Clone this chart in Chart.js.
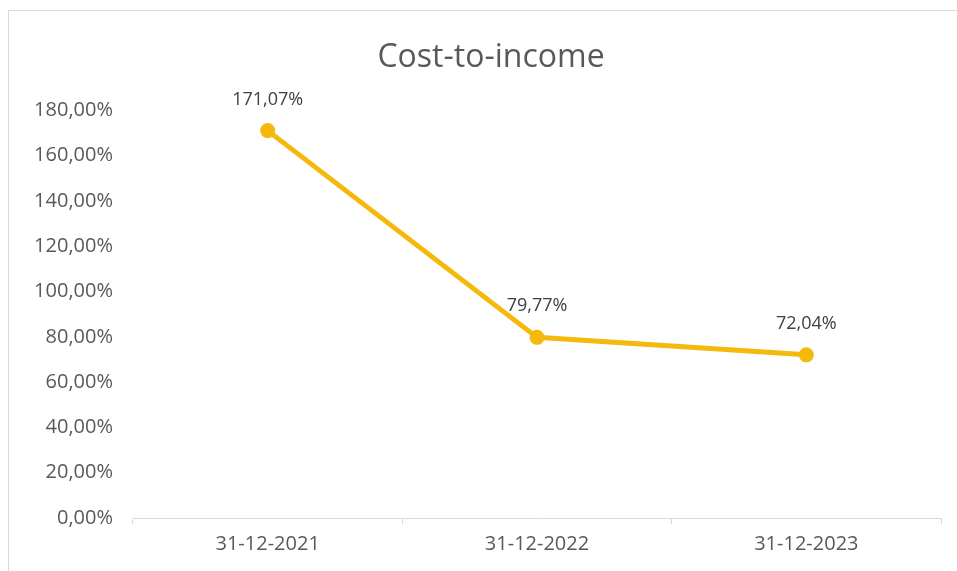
<!DOCTYPE html>
<html>
<head>
<meta charset="utf-8">
<script src="https://cdn.jsdelivr.net/npm/chart.js@4.4.1/dist/chart.umd.min.js"></script>
<style>
  html, body { margin: 0; padding: 0; background: #fff; overflow: hidden; }
  #wrap { position: relative; width: 957px; height: 571px; overflow: hidden; }
  #frame { position: absolute; left: 8px; top: 10px; width: 1000px; height: 700px; border: 1px solid #d9d9d9; pointer-events: none; }
</style>
</head>
<body>
<div id="wrap">
  <canvas id="c" width="957" height="571"></canvas>
  <div id="frame"></div>
</div>
<script>
const categories = ["31-12-2021", "31-12-2022", "31-12-2023"];
const costToIncome = [171.07, 79.77, 72.04];
const yTicks = [0, 20, 40, 60, 80, 100, 120, 140, 160, 180];
const chartTitle = "Cost-to-income";

const fmt = v => v.toFixed(2).replace('.', ',') + '%';

const labelPlugin = {
  id: 'pointLabels',
  afterDatasetsDraw(chart) {
    const ctx = chart.ctx;
    const meta = chart.getDatasetMeta(0);
    ctx.save();
    ctx.font = '18px "Open Sans"';
    ctx.fillStyle = '#404040';
    ctx.textAlign = 'center';
    ctx.textBaseline = 'middle';
    meta.data.forEach((pt, i) => {
      ctx.fillText(fmt(chart.data.datasets[0].data[i]), pt.x, pt.y - 31);
    });
    ctx.restore();
  }
};

new Chart(document.getElementById('c'), {
  type: 'line',
  data: {
    labels: categories,
    datasets: [{
      data: costToIncome,
      borderColor: '#F4B90A',
      backgroundColor: '#F4B90A',
      borderWidth: 5,
      pointRadius: 5,
      pointHoverRadius: 5,
      tension: 0
    }]
  },
  options: {
    responsive: false,
    animation: false,
    events: [],
    layout: { padding: { left: 25, right: 0, top: 0, bottom: 0 } },
    plugins: {
      legend: { display: false },
      tooltip: { enabled: false },
      title: {
        display: true,
        text: chartTitle,
        color: '#595959',
        font: { family: '"Open Sans"', size: 32, weight: 'normal' },
        padding: { top: 39, bottom: 33 }
      }
    },
    scales: {
      x: {
        offset: true,
        grid: { display: true, drawOnChartArea: false, drawTicks: true, tickLength: 6, color: '#d9d9d9', offset: true },
        border: { display: true, color: '#d9d9d9', width: 1 },
        ticks: { color: '#595959', font: { family: '"Open Sans"', size: 20 }, padding: 8, maxRotation: 0 },
        afterFit(scale) { scale.height = 53; }
      },
      y: {
        min: 0,
        max: 180,
        grid: { display: false, drawTicks: false },
        border: { display: false },
        afterBuildTicks(scale) { scale.ticks = yTicks.map(v => ({ value: v })); },
        ticks: {
          color: '#595959',
          font: { family: '"Open Sans"', size: 20 },
          padding: 20,
          callback: v => fmt(v)
        },
        afterFit(scale) { scale.width = 108; }
      },
      yRight: {
        position: 'right',
        display: true,
        min: 0,
        max: 180,
        grid: { display: false, drawTicks: false },
        border: { display: false },
        ticks: { display: false },
        afterFit(scale) { scale.width = 16; }
      }
    }
  },
  plugins: [labelPlugin]
});
</script>
</body>
</html>
